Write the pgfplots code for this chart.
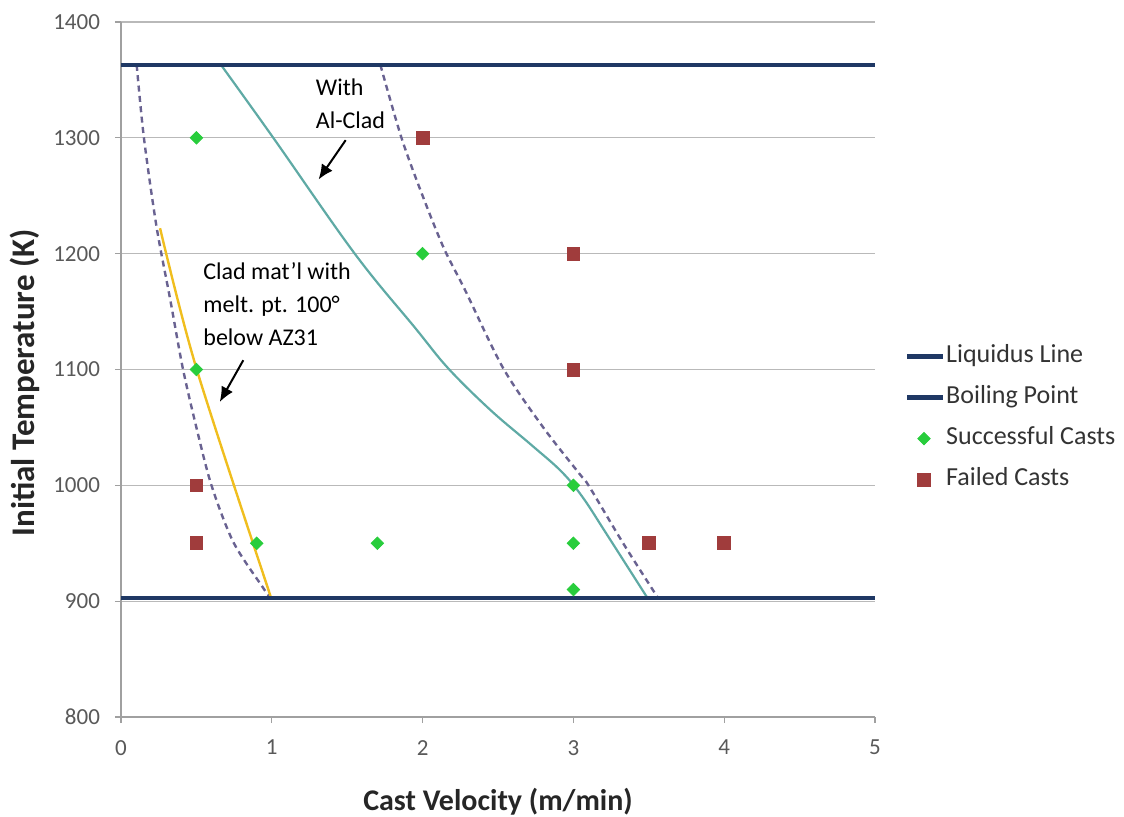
\documentclass[border=0pt]{standalone}
\usepackage{fontspec}
\setmainfont{Carlito}
\usepackage{pgfplots}
\pgfplotsset{compat=1.18}
\usetikzlibrary{arrows.meta}

\definecolor{navyline}{RGB}{31,56,100}
\definecolor{tealline}{RGB}{95,170,165}
\definecolor{dashpurple}{RGB}{105,98,145}
\definecolor{goldline}{RGB}{240,190,30}
\definecolor{okgreen}{RGB}{40,205,60}
\definecolor{failred}{RGB}{160,60,60}
\definecolor{axisgray}{RGB}{160,160,160}
\definecolor{gridgray}{RGB}{185,185,185}

\pgfplotsset{
  linelegend/.style={legend image code/.code={\draw[##1] (0pt,0pt) -- (18pt,0pt);}},
  marklegend/.style={legend image code/.code={\draw[##1] plot coordinates {(8.5pt,0pt)};}},
}

\begin{document}
\begin{tikzpicture}
\path[use as bounding box] (-60.5pt,-49.5pt) rectangle (501.5pt,358.5pt);
\begin{axis}[
  at={(0pt,0pt)}, anchor=south west,
  scale only axis, width=377pt, height=347.5pt,
  xmin=0, xmax=5, ymin=800, ymax=1400,
  xtick={0,1,2,3,4,5}, ytick={800,900,1000,1100,1200,1300,1400},
  axis x line=bottom, axis y line=left,
  axis line style={-, draw=axisgray, line width=0.6pt},
  tick align=outside, major tick length=3pt,
  tick style={draw=axisgray, line width=0.6pt},
  ymajorgrids, grid style={draw=gridgray, line width=0.6pt},
  /pgf/number format/assume math mode=true,
  /pgf/number format/1000 sep={},
  ticklabel style={font=\fontsize{11.5}{13}\selectfont, text=black!65},
  xticklabel style={yshift=-5pt},
  yticklabel style={xshift=-4pt},
  xlabel={Cast Velocity (m/min)},
  ylabel={Initial Temperature (K)},
  xlabel style={font=\fontsize{15}{17}\selectfont\bfseries, text=black!85,
    at={(axis description cs:0.5,-0.122)}, anchor=center},
  ylabel style={font=\fontsize{16.5}{18}\selectfont\bfseries, text=black!85,
    at={(axis description cs:-0.128,0.481)}, anchor=center},
  legend style={at={(axis description cs:1.039,0.43)}, anchor=west,
    draw=none, fill=none, inner sep=0pt, row sep=7.5pt,
    font=\fontsize{13}{15}\selectfont,
    nodes={inner sep=0.5pt, text height=9pt, text depth=3pt, text=black!80}},
  legend cell align=left,
  clip=false,
]
% model curves (not in the legend)
\addplot[forget plot, tealline, line width=1.1pt, smooth, tension=0.6] coordinates {
  (0.663,1363) (1.01,1300) (1.55,1200) (1.95,1136) (2.17,1101) (2.45,1065)
  (2.72,1035) (2.92,1012) (3.06,990) (3.22,958) (3.49,903)};
\addplot[forget plot, dashpurple, line width=1.2pt, dash pattern=on 3pt off 2.2pt, smooth, tension=0.5] coordinates {
  (1.72,1363) (1.86,1300) (2.0,1250) (2.14,1205) (2.28,1169) (2.535,1101)
  (2.8,1050) (3.04,1010) (3.1,1000) (3.33,950) (3.56,903)};
\addplot[forget plot, dashpurple, line width=1.2pt, dash pattern=on 3pt off 2.2pt, smooth, tension=0.5] coordinates {
  (0.104,1363) (0.152,1300) (0.236,1223) (0.327,1160) (0.41,1101)
  (0.5,1050) (0.6,1000) (0.745,951) (0.94,912) (0.99,903)};
\addplot[forget plot, goldline, line width=1.2pt, smooth, tension=0.5] coordinates {
  (0.259,1222) (0.5,1101) (0.995,903)};

% reference temperatures
\addplot[linelegend, navyline, line width=2.2pt] coordinates {(0,903) (5,903)};
\addlegendentry{Liquidus Line}
\addplot[linelegend, navyline, line width=2.2pt] coordinates {(0,1363) (5,1363)};
\addlegendentry{Boiling Point}

% cast trials
\addplot[marklegend, only marks, mark=square*, mark size=2.2pt,
  mark options={rotate=45, fill=okgreen, draw=okgreen}] coordinates {
  (0.5,1300) (2,1200) (0.5,1100) (3,1000) (0.9,950) (1.7,950) (3,950) (3,910)};
\addlegendentry{Successful Casts}
\addplot[marklegend, only marks, mark=square*, mark size=3.2pt,
  mark options={fill=failred, draw=failred}] coordinates {
  (2,1300) (3,1200) (3,1100) (0.5,1000) (0.5,950) (3.5,950) (4,950)};
\addlegendentry{Failed Casts}

% annotations
\node[anchor=west, align=left, inner sep=0pt, font=\fontsize{12}{16.5}\selectfont]
  at (axis cs:1.29,1329) {With\\Al-Clad};
\draw[-{Latex[length=7.5pt,width=6.5pt]}, line width=1pt] (axis cs:1.49,1298) -- (axis cs:1.31,1264);
\node[anchor=west, align=left, inner sep=0pt, font=\fontsize{12}{16.5}\selectfont]
  at (axis cs:0.544,1156.5) {Clad mat’l with\\melt. pt. 100°\\below AZ31};
\draw[-{Latex[length=7.5pt,width=6.5pt]}, line width=1pt] (axis cs:0.811,1108) -- (axis cs:0.655,1072);
\end{axis}
\end{tikzpicture}
\end{document}
